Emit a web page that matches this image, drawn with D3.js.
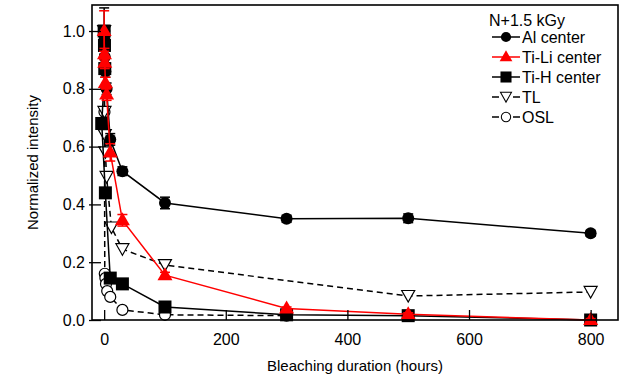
<!DOCTYPE html>
<html><head><meta charset="utf-8">
<script src="https://cdn.jsdelivr.net/npm/d3@7"></script>
<style>body{margin:0;background:#fff}svg{display:block;font-family:"Liberation Sans",Arial,sans-serif}</style>
</head><body><svg id="c" width="632" height="379"></svg>
<script>
// ---- data (hours, normalized intensity) ----
const alX   = [0, 0.5, 1, 2, 4, 10, 30, 100, 300, 500, 800];
const alY   = [1.0, 0.97, 0.91, 0.86, 0.80, 0.625, 0.515, 0.405, 0.35, 0.352, 0.30];
const alErr = [0.08, 0.02, 0.02, 0.02, 0.02, 0.02, 0.015, 0.02, 0.012, 0.015, 0.01];

const tiliX   = [0, 0.5, 1, 2, 4, 10, 30, 100, 300, 500, 800];
const tiliY   = [1.0, 0.92, 0.89, 0.82, 0.78, 0.58, 0.345, 0.155, 0.04, 0.02, 0.0];
const tiliErr = [0.07, 0.02, 0.02, 0.02, 0.02, 0.03, 0.02, 0.01, 0.005, 0.005, 0.005];

const tihX = [0, 0.5, 1, -4, 2, 10, 30, 100, 300, 500, 800];
const tihY = [1.0, 0.95, 0.87, 0.68, 0.44, 0.145, 0.125, 0.045, 0.018, 0.015, 0.0];

const tlX = [0, 0.5, 1, 2, 4, 12, 30, 100, 500, 800];
const tlY = [1.0, 0.72, 0.64, 0.58, 0.495, 0.32, 0.245, 0.19, 0.083, 0.097];

const oslX = [0, 0.5, 1, 2, 3, 5, 10, 30, 100, 300];
const oslY = [1.0, 0.72, 0.16, 0.145, 0.125, 0.10, 0.08, 0.035, 0.018, 0.015];

const xTicks = [0, 200, 400, 600, 800];
const yTicks = [0.0, 0.2, 0.4, 0.6, 0.8, 1.0];
const legendTitle = "N+1.5 kGy";
const xTitle = "Bleaching duration (hours)";
const yTitle = "Normalized intensity";

// ---- layout ----
const L = 92, R = 618, T = 5, B = 320;
const svg = d3.select("#c");
const x = d3.scaleLinear().domain([-20, 845]).range([L, R]);
const y = d3.scaleLinear().domain([0, 1.09]).range([B, T]);

const series = [
  {name:"OSL", xs:oslX, ys:oslY, color:"#000", dash:"6,4", sym:"ocircle"},
  {name:"TL", xs:tlX, ys:tlY, color:"#000", dash:"6,4", sym:"dtri"},
  {name:"Ti-H center", xs:tihX, ys:tihY, color:"#000", dash:null, sym:"square"},
  {name:"Al center", xs:alX, ys:alY, err:alErr, color:"#000", dash:null, sym:"circle"},
  {name:"Ti-Li center", xs:tiliX, ys:tiliY, err:tiliErr, color:"#ff0000", dash:null, sym:"tri"}
];

function drawSym(g, sym, cx, cy, color) {
  if (sym === "circle") g.append("circle").attr("cx",cx).attr("cy",cy).attr("r",6).attr("fill",color);
  else if (sym === "ocircle") g.append("circle").attr("cx",cx).attr("cy",cy).attr("r",5.5).attr("fill","#fff").attr("stroke",color).attr("stroke-width",1.2);
  else if (sym === "square") g.append("rect").attr("x",cx-6.5).attr("y",cy-6.5).attr("width",13).attr("height",13).attr("fill",color);
  else if (sym === "tri") g.append("path").attr("d",`M${cx},${cy-8}L${cx+7.5},${cy+5}L${cx-7.5},${cy+5}Z`).attr("fill",color);
  else if (sym === "dtri") g.append("path").attr("d",`M${cx-6.5},${cy-5.5}L${cx+6.5},${cy-5.5}L${cx},${cy+6}Z`).attr("fill","#fff").attr("stroke",color).attr("stroke-width",1.2);
}

const plot = svg.append("g");
series.forEach(s => {
  const pts = s.xs.map((v,i)=>[v, s.ys[i], s.err ? s.err[i] : 0]);
  const line = d3.line().x(d=>x(d[0])).y(d=>y(d[1]));
  const g = plot.append("g");
  g.append("path").attr("d", line(pts)).attr("fill","none").attr("stroke",s.color)
    .attr("stroke-width",1.5).attr("stroke-dasharray", s.dash);
  if (s.err) {
    pts.forEach(d => {
      if (!d[2]) return;
      const cx = x(d[0]), y1 = y(d[1]+d[2]), y2 = y(d[1]-d[2]);
      g.append("line").attr("x1",cx).attr("x2",cx).attr("y1",y1).attr("y2",y2).attr("stroke",s.color).attr("stroke-width",1.5);
      [y1,y2].forEach(yy => g.append("line").attr("x1",cx-5).attr("x2",cx+5).attr("y1",yy).attr("y2",yy).attr("stroke",s.color).attr("stroke-width",1.5));
    });
  }
  pts.forEach(d => drawSym(g, s.sym, x(d[0]), y(d[1]), s.color));
});

// ---- frame & axes ----
svg.append("rect").attr("x",L).attr("y",T).attr("width",R-L).attr("height",B-T)
  .attr("fill","none").attr("stroke","#000").attr("stroke-width",1.6);

const xa = svg.append("g").attr("transform",`translate(0,${B})`)
  .call(d3.axisBottom(x).tickValues(xTicks).tickSizeInner(-10).tickSizeOuter(0).tickPadding(14).tickFormat(d3.format("d")));
const ya = svg.append("g").attr("transform",`translate(${L},0)`)
  .call(d3.axisLeft(y).tickValues(yTicks).tickSizeInner(-9).tickSizeOuter(0).tickPadding(8).tickFormat(d3.format(".1f")));
[xa, ya].forEach(a => {
  a.select(".domain").remove();
  a.selectAll(".tick line").attr("stroke","#000").attr("stroke-width",1.3);
  a.selectAll(".tick text").attr("font-size",16).attr("fill","#000")
    .attr("font-family",'"Liberation Sans",Arial,sans-serif');
});
// small outward stubs on y ticks
ya.selectAll(".tick").append("line").attr("x1",-3).attr("x2",0).attr("stroke","#000").attr("stroke-width",1.3);
ya.selectAll(".tick text").attr("x",-7);

svg.append("text").attr("x",(L+R)/2).attr("y",371).attr("text-anchor","middle")
  .attr("font-size",15).text(xTitle);
svg.append("text").attr("transform",`translate(38,${(T+B)/2}) rotate(-90)`).attr("text-anchor","middle")
  .attr("font-size",15).text(yTitle);

// ---- legend ----
const lg = svg.append("g");
lg.append("text").attr("x",489).attr("y",26).attr("font-size",16).text(legendTitle);
const legOrder = ["Al center","Ti-Li center","Ti-H center","TL","OSL"];
legOrder.forEach((nm,i) => {
  const s = series.find(d=>d.name===nm);
  const cy = 37 + i*20;
  if (s.dash) {
    lg.append("line").attr("x1",492).attr("x2",499).attr("y1",cy).attr("y2",cy).attr("stroke",s.color).attr("stroke-width",1.5);
    lg.append("line").attr("x1",513).attr("x2",520).attr("y1",cy).attr("y2",cy).attr("stroke",s.color).attr("stroke-width",1.5);
  } else {
    lg.append("line").attr("x1",492).attr("x2",520).attr("y1",cy).attr("y2",cy).attr("stroke",s.color).attr("stroke-width",1.5);
  }
  const g = lg.append("g").attr("transform",`translate(${506},${cy}) scale(0.85) translate(-506,${-cy})`);
  drawSym(g, s.sym, 506, cy, s.color);
  lg.append("text").attr("x",522).attr("y",cy+6).attr("font-size",16).text(nm);
});
</script></body></html>
